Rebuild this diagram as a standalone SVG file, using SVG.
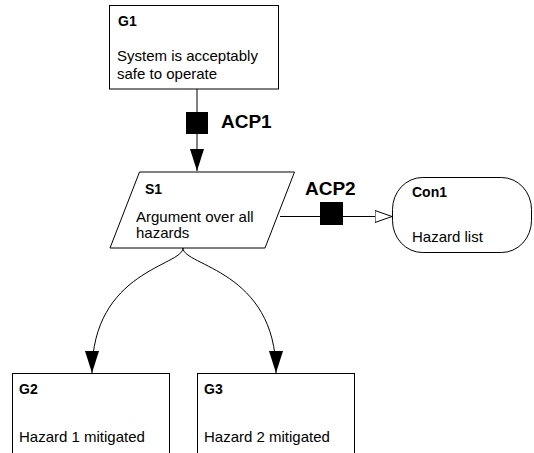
<svg xmlns="http://www.w3.org/2000/svg" width="534" height="453" viewBox="0 0 534 453">
<defs>
<style>
.box{fill:#fff;stroke:#000;stroke-width:1}
.t{font-family:"Liberation Sans",Arial,sans-serif;font-size:15px;fill:#000}
.h{font-family:"Liberation Sans",Arial,sans-serif;font-size:14px;font-weight:bold;fill:#000}
.acp{font-family:"Liberation Sans",Arial,sans-serif;font-size:19px;font-weight:bold;fill:#000}
.ln{fill:none;stroke:#000;stroke-width:1}
</style>
<marker id="solid" viewBox="0 0 22 14" refX="22" refY="7" markerWidth="22" markerHeight="14" markerUnits="userSpaceOnUse" orient="auto">
<path d="M0,0 L22,7 L0,14 Z" fill="#000"/>
</marker>
<marker id="hollow" viewBox="0 0 18 14" refX="17.5" refY="7" markerWidth="18" markerHeight="14" markerUnits="userSpaceOnUse" orient="auto">
<path d="M0.5,1 L17.5,7 L0.5,13 Z" fill="#fff" stroke="#000" stroke-width="1"/>
</marker>
</defs>
<rect width="534" height="453" fill="#fff"/>
<g id="connectors">
<path class="ln" d="M197,89 V171" marker-end="url(#solid)"/>
<rect x="186" y="112" width="22" height="22" fill="#000"/>
<text class="acp" x="221" y="128">ACP1</text>
<path class="ln" d="M280,216.5 H392" marker-end="url(#hollow)"/>
<rect x="320" y="202" width="23" height="23" fill="#000"/>
<text class="acp" x="305" y="195">ACP2</text>
<path class="ln" d="M183,248 C183,266 92,270 92,373" marker-end="url(#solid)"/>
<path class="ln" d="M183,248 C183,266 276,270 276,373" marker-end="url(#solid)"/>
</g>
<g id="G1">
<rect class="box" x="109.5" y="5.5" width="169" height="83.5"/>
<text class="h" x="118" y="26">G1</text>
<text class="t" x="117" y="61">System is acceptably</text>
<text class="t" x="117" y="79">safe to operate</text>
</g>
<g id="S1">
<path class="box" d="M139.5,172 H294.5 L265,248 H110 Z"/>
<text class="h" x="145" y="194">S1</text>
<text class="t" x="136" y="222">Argument over all</text>
<text class="t" x="136" y="238">hazards</text>
</g>
<g id="Con1">
<rect class="box" x="392.5" y="177.5" width="139" height="75" rx="30" ry="32"/>
<text class="h" x="412" y="197">Con1</text>
<text class="t" x="412" y="242">Hazard list</text>
</g>
<g id="G2">
<rect class="box" x="12.5" y="373.5" width="157" height="85"/>
<text class="h" x="19" y="394">G2</text>
<text class="t" x="19" y="442">Hazard 1 mitigated</text>
</g>
<g id="G3">
<rect class="box" x="197.5" y="373.5" width="157" height="85"/>
<text class="h" x="204" y="394">G3</text>
<text class="t" x="204" y="442">Hazard 2 mitigated</text>
</g>
</svg>
